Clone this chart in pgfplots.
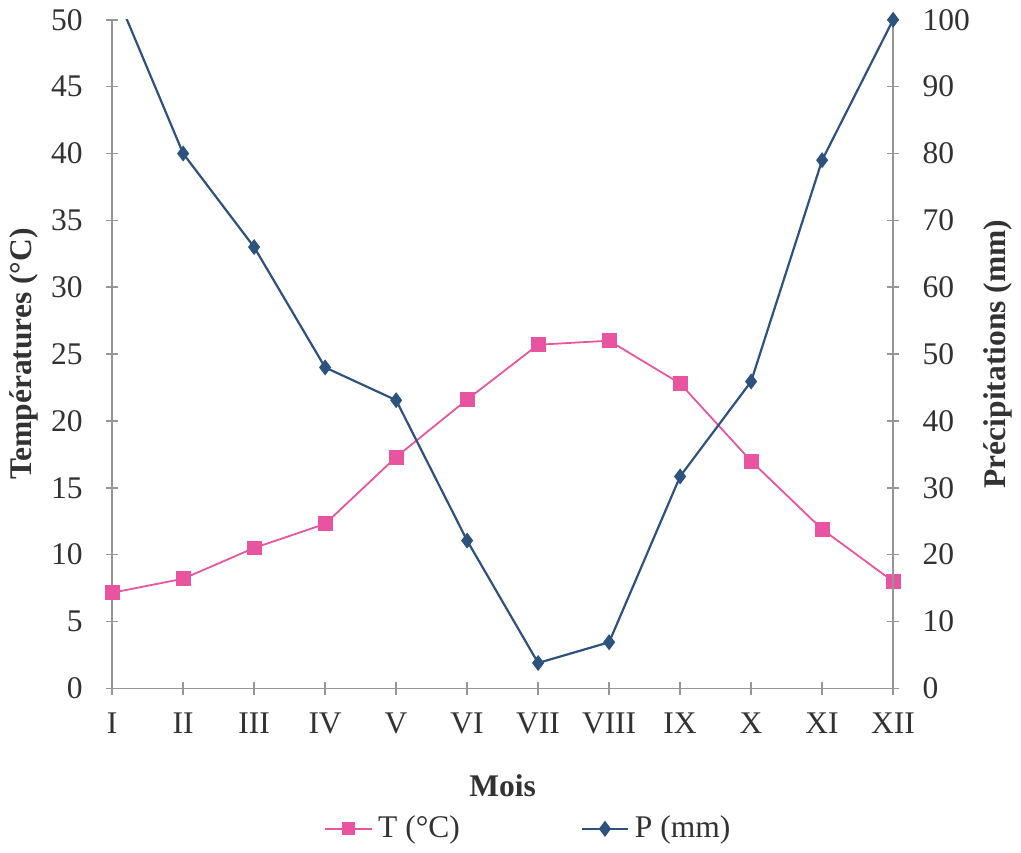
\documentclass[border=0pt]{standalone}
\usepackage{pgfplots}
\pgfplotsset{compat=1.18}
\usepackage{fontspec}
\setmainfont{Liberation Serif}

\definecolor{tpink}{RGB}{232,84,160}
\definecolor{pblue}{RGB}{44,82,125}
\definecolor{axgray}{RGB}{150,150,150}
\definecolor{txt}{RGB}{50,50,50}

\pgfplotsset{
    base/.style={
        width=285pt, height=244pt, scale only axis,
        xmin=1, xmax=12,
        xtick={1,...,12},
        /pgf/number format/assume math mode=true,
        tick align=center,
        major tick length=4.5pt,
        tick style={axgray, line width=0.6pt},
        axis line style={axgray, line width=0.6pt},
        every tick label/.append style={font=\fontsize{11.5}{13}\selectfont, text=txt},
    }
}

\begin{document}
\begin{tikzpicture}
    % températures, axe de gauche
    \begin{axis}[base,
        axis x line*=bottom, axis y line*=left,
        ymin=0, ymax=50, ytick={0,5,...,50},
        xticklabels={I,II,III,IV,V,VI,VII,VIII,IX,X,XI,XII},
        xticklabel style={yshift=-3pt},
        yticklabel style={xshift=-5pt},
        ylabel={\textbf{Températures (°C)}},
        ylabel style={font=\fontsize{11.5}{13}\selectfont, text=txt, yshift=-2pt},
        xlabel={\textbf{Mois}},
        xlabel style={font=\fontsize{11.5}{13}\selectfont, text=txt, yshift=-8pt},
    ]
        \addplot[tpink, line width=0.65pt, mark=square*,
                 mark options={fill=tpink, draw=tpink, mark size=2.4pt}]
            coordinates {
                (1,7.15) (2,8.2) (3,10.5) (4,12.3) (5,17.3) (6,21.6)
                (7,25.7) (8,26.0) (9,22.8) (10,17.0) (11,11.9) (12,8.0)
            };
    \end{axis}

    % précipitations, axe de droite
    \begin{axis}[base,
        axis x line=none, axis y line*=right,
        ymin=0, ymax=100, ytick={0,10,...,100},
        yticklabel style={xshift=5pt},
        ylabel={\textbf{Précipitations (mm)}},
        ylabel style={font=\fontsize{11.5}{13}\selectfont, text=txt, yshift=2pt},
        legend columns=2,
        legend style={at={(0.535,-0.21)}, anchor=center, draw=none,
            fill=none, font=\fontsize{11.5}{13}\selectfont, text=txt,
            /tikz/every even column/.append style={column sep=42pt}},
    ]
        \addlegendimage{tpink, line width=0.65pt, mark=square*,
            mark options={fill=tpink, draw=tpink, mark size=2pt}}
        \addlegendentry{T (°C)}
        \addlegendimage{pblue, line width=0.8pt, mark=diamond*,
            mark options={fill=pblue, draw=pblue, mark size=2.3pt}}
        \addlegendentry{P (mm)}
        % ligne complète (le point de janvier dépasse 100 et est coupé)
        \addplot[pblue, line width=0.8pt, forget plot]
            coordinates {
                (1,105.3) (2,80) (3,66) (4,48) (5,43.1) (6,22.1)
                (7,3.8) (8,6.9) (9,31.7) (10,45.9) (11,79) (12,100)
            };
        \addplot[only marks, mark=diamond*, forget plot,
                 mark options={fill=pblue, draw=pblue, mark size=2.6pt}]
            coordinates {
                (2,80) (3,66) (4,48) (5,43.1) (6,22.1)
                (7,3.8) (8,6.9) (9,31.7) (10,45.9) (11,79) (12,100)
            };
    \end{axis}
\end{tikzpicture}
\end{document}
